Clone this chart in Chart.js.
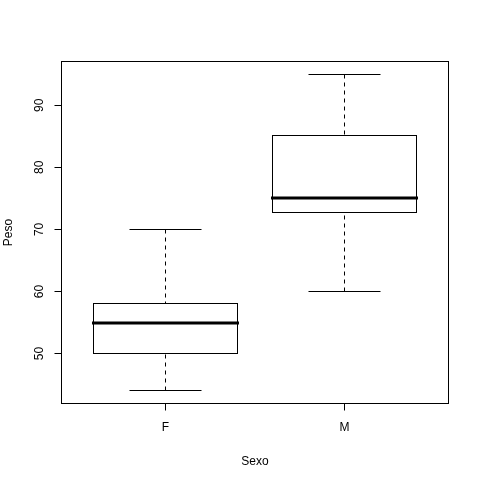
<!DOCTYPE html>
<html>
<head>
<meta charset="utf-8">
<script src="https://cdn.jsdelivr.net/npm/chart.js@4/dist/chart.umd.min.js"></script>
<style>
html,body{margin:0;padding:0;background:#fff;}
canvas{display:block;}
</style>
</head>
<body>
<canvas id="c" width="480" height="480"></canvas>
<script>
// ---- data ----
const categories = ['F', 'M'];
const positions = [1, 2];
const whiskerLow = [44, 60];
const quartile1 = [50, 72.8];
const medians = [55, 75];
const quartile3 = [58, 85.2];
const whiskerHigh = [70, 95];
const yTicks = [50, 60, 70, 80, 90];
const xLabel = 'Sexo';
const yLabel = 'Peso';

const FONT = {family: '"Liberation Sans", Arial, sans-serif', size: 12};
const BOX_WIDTH = 0.8;
const CAP_WIDTH = 0.4;

const crisp = v => Math.round(v - 0.5) + 0.5;

const boxPlugin = {
  id: 'boxplotDraw',
  afterDatasetsDraw(chart) {
    const ctx = chart.ctx;
    const xs = chart.scales.x, ys = chart.scales.y;
    const ca = chart.chartArea;
    ctx.save();
    ctx.strokeStyle = '#000';
    ctx.lineWidth = 1;
    // plot frame
    ctx.strokeRect(crisp(ca.left), crisp(ca.top), Math.round(ca.right - ca.left), Math.round(ca.bottom - ca.top));
    positions.forEach((p, i) => {
      const xc = crisp(xs.getPixelForValue(p));
      const xl = crisp(xs.getPixelForValue(p - BOX_WIDTH / 2));
      const xr = crisp(xs.getPixelForValue(p + BOX_WIDTH / 2));
      const cl = crisp(xs.getPixelForValue(p - CAP_WIDTH / 2));
      const cr = crisp(xs.getPixelForValue(p + CAP_WIDTH / 2));
      const yMin = crisp(ys.getPixelForValue(whiskerLow[i]));
      const yQ1 = crisp(ys.getPixelForValue(quartile1[i]));
      const yMed = ys.getPixelForValue(medians[i]);
      const yQ3 = crisp(ys.getPixelForValue(quartile3[i]));
      const yMax = crisp(ys.getPixelForValue(whiskerHigh[i]));
      // whiskers (dashed)
      ctx.lineWidth = 1;
      ctx.setLineDash([4, 4]);
      ctx.beginPath();
      ctx.moveTo(xc, yMin); ctx.lineTo(xc, yQ1);
      ctx.moveTo(xc, yMax); ctx.lineTo(xc, yQ3);
      ctx.stroke();
      ctx.setLineDash([]);
      // staples
      ctx.beginPath();
      ctx.moveTo(cl, yMin); ctx.lineTo(cr, yMin);
      ctx.moveTo(cl, yMax); ctx.lineTo(cr, yMax);
      ctx.stroke();
      // box
      ctx.fillStyle = '#fff';
      ctx.fillRect(xl, yQ3, xr - xl, yQ1 - yQ3);
      ctx.strokeRect(xl, yQ3, xr - xl, yQ1 - yQ3);
      // median
      ctx.lineWidth = 3;
      ctx.lineCap = 'butt';
      ctx.beginPath();
      ctx.moveTo(xl - 1.5, Math.round(yMed)); ctx.lineTo(xr + 1.5, Math.round(yMed));
      ctx.stroke();
    });
    ctx.restore();
  }
};

new Chart(document.getElementById('c'), {
  type: 'scatter',
  data: {datasets: [{data: [], pointRadius: 0}]},
  options: {
    responsive: false,
    devicePixelRatio: 1,
    animation: false,
    events: [],
    layout: {padding: {left: 0, right: 31.5, top: 61.5, bottom: 0}},
    plugins: {legend: {display: false}, tooltip: {enabled: false}, title: {display: false}},
    scales: {
      x: {
        type: 'linear',
        position: 'bottom',
        min: 0.42,
        max: 2.58,
        bounds: 'data',
        afterBuildTicks: s => { s.ticks = positions.map(v => ({value: v})); },
        afterFit: s => { s.height = 76.5; },
        ticks: {
          callback: v => categories[positions.indexOf(v)],
          color: '#000', font: FONT, padding: 10, maxRotation: 0, minRotation: 0, autoSkip: false
        },
        grid: {display: true, drawOnChartArea: false, drawTicks: true, tickLength: 7, color: '#000', lineWidth: 1},
        border: {display: false},
        title: {display: true, text: xLabel, color: '#000', font: FONT, padding: {top: 0, bottom: 11.5}}
      },
      y: {
        type: 'linear',
        position: 'left',
        min: 41.96,
        max: 97.04,
        bounds: 'data',
        afterBuildTicks: s => { s.ticks = yTicks.map(v => ({value: v})); },
        afterFit: s => { s.width = 61.5; },
        ticks: {
          color: '#000', font: FONT, padding: 8.3, minRotation: 90, maxRotation: 90, crossAlign: 'center', autoSkip: false
        },
        grid: {display: true, drawOnChartArea: false, drawTicks: true, tickLength: 7, color: '#000', lineWidth: 1},
        border: {display: false},
        title: {display: true, text: yLabel, color: '#000', font: FONT, padding: {top: 1, bottom: 0}}
      }
    }
  },
  plugins: [boxPlugin]
});
</script>
</body>
</html>
